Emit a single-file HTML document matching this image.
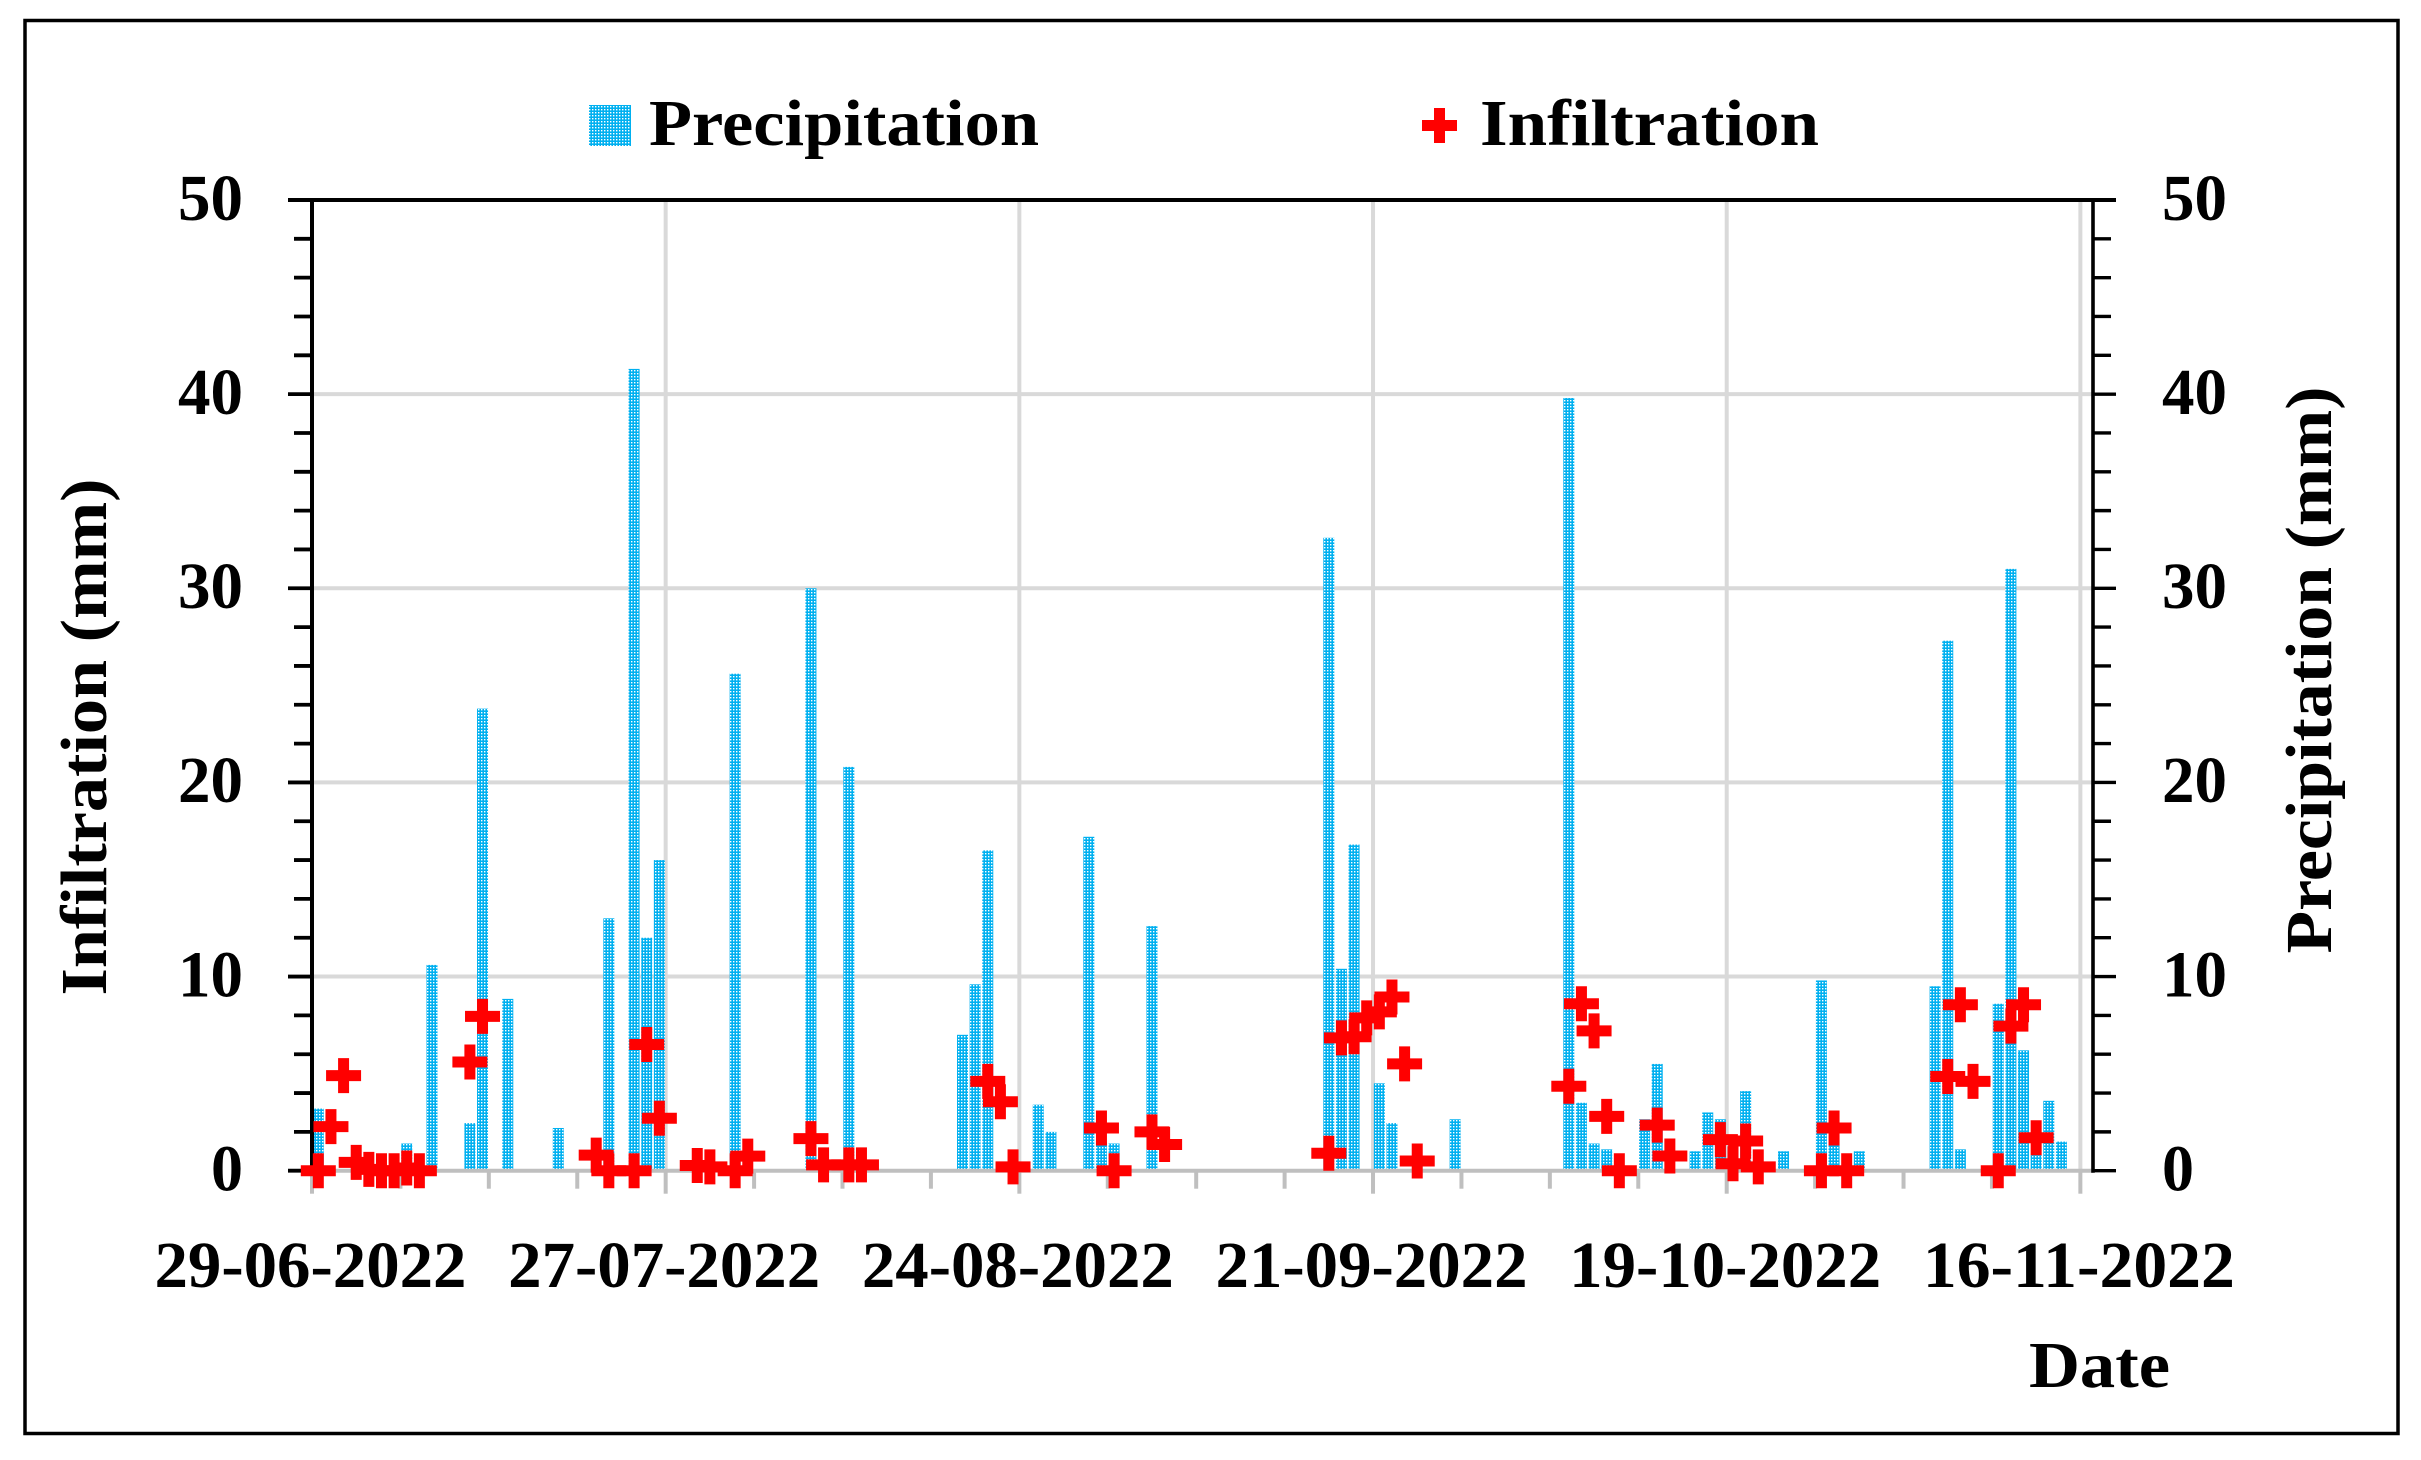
<!DOCTYPE html>
<html lang="en">
<head>
<meta charset="utf-8">
<title>Infiltration and Precipitation</title>
<style>
  html, body { margin: 0; padding: 0; background: #ffffff; }
  svg { display: block; }
  text { font-family: "Liberation Serif", serif; font-weight: 700; fill: #000000; }
</style>
</head>
<body>
<svg id="chart" xmlns="http://www.w3.org/2000/svg" width="2421" height="1460" viewBox="0 0 2421 1460">
  <defs>
    <pattern id="dots" width="3" height="3" patternUnits="userSpaceOnUse">
      <rect width="3" height="3" fill="#00b0f0"/>
      <rect x="1" y="1" width="1.4" height="1.4" fill="#ffffff"/>
    </pattern>
  </defs>
  <rect x="0" y="0" width="2421" height="1460" fill="#ffffff"/>
  <rect x="25" y="20.5" width="2373" height="1413" fill="none" stroke="#000000" stroke-width="3.5"/>
  <g id="grid"></g>
  <g id="bars"></g>
  <g id="axes"></g>
  <g id="markers"></g>
  <g id="labels"></g>

  <g>
    <rect x="589" y="105" width="42" height="41" fill="url(#dots)"/>
    <text x="649" y="145" font-size="66" textLength="390" lengthAdjust="spacingAndGlyphs">Precipitation</text>
    <path d="M1434 108h11v12h12v11h-12v12h-11v-12h-12v-11h12z" fill="#ff0000"/>
    <text x="1480" y="145" font-size="66" textLength="339" lengthAdjust="spacingAndGlyphs">Infiltration</text>
  </g>
  <text x="2029" y="1387" font-size="66" textLength="141" lengthAdjust="spacingAndGlyphs">Date</text>
  <text transform="translate(106 737) rotate(-90)" text-anchor="middle" font-size="66" textLength="517" lengthAdjust="spacingAndGlyphs">Infiltration (mm)</text>
  <text transform="translate(2331 670) rotate(-90)" text-anchor="middle" font-size="66" textLength="567" lengthAdjust="spacingAndGlyphs">Precipitation (mm)</text>
</svg>
<script>
// Day index (0 = 29-06-2022) of each precipitation bar
const precipDays = [0, 7, 9, 12, 13, 15, 19, 23, 25, 26, 27, 33, 39, 42, 51, 52, 53, 57, 58, 61, 62, 63, 66, 80, 81, 82, 84, 85, 90, 99, 100, 101, 102, 105, 106, 109, 110, 111, 113, 116, 119, 120, 122, 128, 129, 130, 133, 134, 135, 136, 137, 138];
// Precipitation in mm
const precipValues = [3.2, 1.4, 10.6, 2.45, 23.8, 8.85, 2.2, 13.0, 41.3, 12.0, 16.0, 25.6, 30.0, 20.8, 7.0, 9.6, 16.5, 3.4, 2.0, 17.2, 1.5, 1.4, 12.6, 32.6, 10.4, 16.8, 4.5, 2.45, 2.65, 39.8, 3.5, 1.4, 1.1, 2.65, 5.5, 1.0, 3.0, 2.65, 4.1, 1.0, 9.8, 1.3, 1.0, 9.5, 27.3, 1.1, 8.6, 31.0, 6.2, 0.8, 3.6, 1.5];
// Day index of each infiltration marker
const infilDays = [0, 1, 2, 3, 4, 5, 6, 7, 8, 12, 13, 22, 23, 25, 26, 27, 30, 31, 33, 34, 39, 40, 42, 43, 53, 54, 55, 62, 63, 66, 67, 80, 81, 82, 83, 84, 85, 86, 87, 99, 100, 101, 102, 103, 106, 107, 111, 112, 113, 114, 119, 120, 121, 129, 130, 131, 133, 134, 135, 136];
// Infiltration in mm
const infilValues = [0, 2.27, 4.9, 0.43, 0.07, 0, 0, 0.14, 0, 5.6, 7.95, 0.8, 0, 0, 6.5, 2.7, 0.27, 0.2, 0, 0.75, 1.65, 0.3, 0.3, 0.3, 4.6, 3.55, 0.2, 2.2, 0, 2.0, 1.35, 0.9, 6.84, 6.9, 7.87, 8.18, 8.95, 5.5, 0.5, 4.35, 8.6, 7.2, 2.8, 0, 2.35, 0.76, 1.6, 0.36, 1.53, 0.2, 0, 2.2, 0, 4.85, 8.55, 4.6, 0, 7.45, 8.55, 1.7];
// Axis tick labels
const dateLabels = ["29-06-2022", "27-07-2022", "24-08-2022", "21-09-2022", "19-10-2022", "16-11-2022"];
const valueTicks = [0, 10, 20, 30, 40, 50];
const minorValueTicks = [2, 4, 6, 8, 12, 14, 16, 18, 22, 24, 26, 28, 32, 34, 36, 38, 42, 44, 46, 48];

const NS = "http://www.w3.org/2000/svg";
const plotLeft = 312, plotRight = 2093, plotBottom = 1170.7, plotTop = 200;
const dayCount = 141, majorEvery = 28, minorEvery = 7, yMax = 50;
const dayWidth = (plotRight - plotLeft) / dayCount;

function xEdge(day) { return plotLeft + day * dayWidth; }
function xCenter(day) { return plotLeft + (day + 0.5) * dayWidth; }
function yScale(v) { return plotBottom - (v / yMax) * (plotBottom - plotTop); }

function make(tag, parent, props) {
  const el = document.createElementNS(NS, tag);
  for (const k in props) el.setAttribute(k, props[k]);
  parent.appendChild(el);
  return el;
}

const gridGroup = document.getElementById("grid");
const barGroup = document.getElementById("bars");
const axisGroup = document.getElementById("axes");
const markerGroup = document.getElementById("markers");
const labelGroup = document.getElementById("labels");

// Gridlines
valueTicks.forEach(function (v) {
  if (v === 0 || v === yMax) return;
  const line = make("line", gridGroup, { x1: plotLeft, x2: plotRight, y1: yScale(v), y2: yScale(v), stroke: "#d9d9d9", "stroke-width": 4 });
  
  
});
dateLabels.forEach(function (d, i) {
  if (i === 0) return;
  const line = make("line", gridGroup, { x1: xEdge(i * majorEvery), x2: xEdge(i * majorEvery), y1: plotTop, y2: plotBottom, stroke: "#d9d9d9", "stroke-width": 4 });
  
  
});

// Precipitation bars
precipDays.forEach(function (day, i) {
  const top = yScale(precipValues[i]);
  const bar = make("rect", barGroup, { x: xCenter(day) - 5.5, y: top, width: 11, height: 1169 - top, fill: "url(#dots)" });
  
  
});

// X axis with ticks
for (let day = 0; day <= dayCount - 1; day += minorEvery) {
  const isMajor = day % majorEvery === 0;
  const tick = make("line", axisGroup, { x1: xEdge(day), x2: xEdge(day), y1: plotBottom, y2: isMajor ? 1193.7 : 1188.7, stroke: "#bfbfbf", "stroke-width": 4 });
  
  
}
const xAxis = make("line", axisGroup, { x1: plotLeft, x2: plotRight, y1: plotBottom, y2: plotBottom, stroke: "#bfbfbf", "stroke-width": 4 });



// Y axes and top border
const topLine = make("line", axisGroup, { x1: 288, x2: 2116, y1: plotTop, y2: plotTop, stroke: "#000000", "stroke-width": 4 });


const leftAxis = make("line", axisGroup, { x1: plotLeft, x2: plotLeft, y1: plotTop, y2: plotBottom + 2, stroke: "#000000", "stroke-width": 4 });


const rightAxis = make("line", axisGroup, { x1: plotRight, x2: plotRight, y1: plotTop, y2: plotBottom + 2, stroke: "#000000", "stroke-width": 3.6 });



valueTicks.forEach(function (v) {
  const y = yScale(v);
  const lt = make("line", axisGroup, { x1: 288, x2: plotLeft, y1: y, y2: y, stroke: "#000000", "stroke-width": 3.8 });
  
  
  const rt = make("line", axisGroup, { x1: plotRight, x2: 2116, y1: y, y2: y, stroke: "#000000", "stroke-width": 3.4 });
  
  

  const w = String(v).length === 1 ? 32 : 65;
  const ll = make("text", labelGroup, { x: 243, y: y + 19.8, "font-size": 66, "text-anchor": "end", textLength: w, lengthAdjust: "spacingAndGlyphs" });
  ll.textContent = String(v);
  
  
  const rl = make("text", labelGroup, { x: 2162, y: y + 19.8, "font-size": 66, textLength: w, lengthAdjust: "spacingAndGlyphs" });
  rl.textContent = String(v);
  
  
});
minorValueTicks.forEach(function (v) {
  const y = yScale(v);
  const lt = make("line", axisGroup, { x1: 294, x2: plotLeft, y1: y, y2: y, stroke: "#000000", "stroke-width": 3.8 });
  
  
  const rt = make("line", axisGroup, { x1: plotRight, x2: 2111, y1: y, y2: y, stroke: "#000000", "stroke-width": 3.4 });
  
  
});

// Date tick labels
dateLabels.forEach(function (label, i) {
  const t = make("text", labelGroup, { x: xEdge(i * majorEvery) - 1.5, y: 1287, "font-size": 66, "text-anchor": "middle", textLength: 312, lengthAdjust: "spacingAndGlyphs" });
  t.textContent = label;
  
  
});

// Infiltration markers
infilDays.forEach(function (day, i) {
  const cx = xCenter(day), cy = yScale(infilValues[i]);
  const a = 5.5, b = 17.5;
  const d = "M" + (cx - a) + " " + (cy - b) + "h" + (2 * a) + "v" + (b - a) + "h" + (b - a) + "v" + (2 * a) + "h" + (a - b) + "v" + (b - a) + "h" + (-2 * a) + "v" + (a - b) + "h" + (a - b) + "v" + (-2 * a) + "h" + (b - a) + "z";
  const mark = make("path", markerGroup, { d: d, fill: "#ff0000" });
  
  
});
</script>
</body>
</html>
